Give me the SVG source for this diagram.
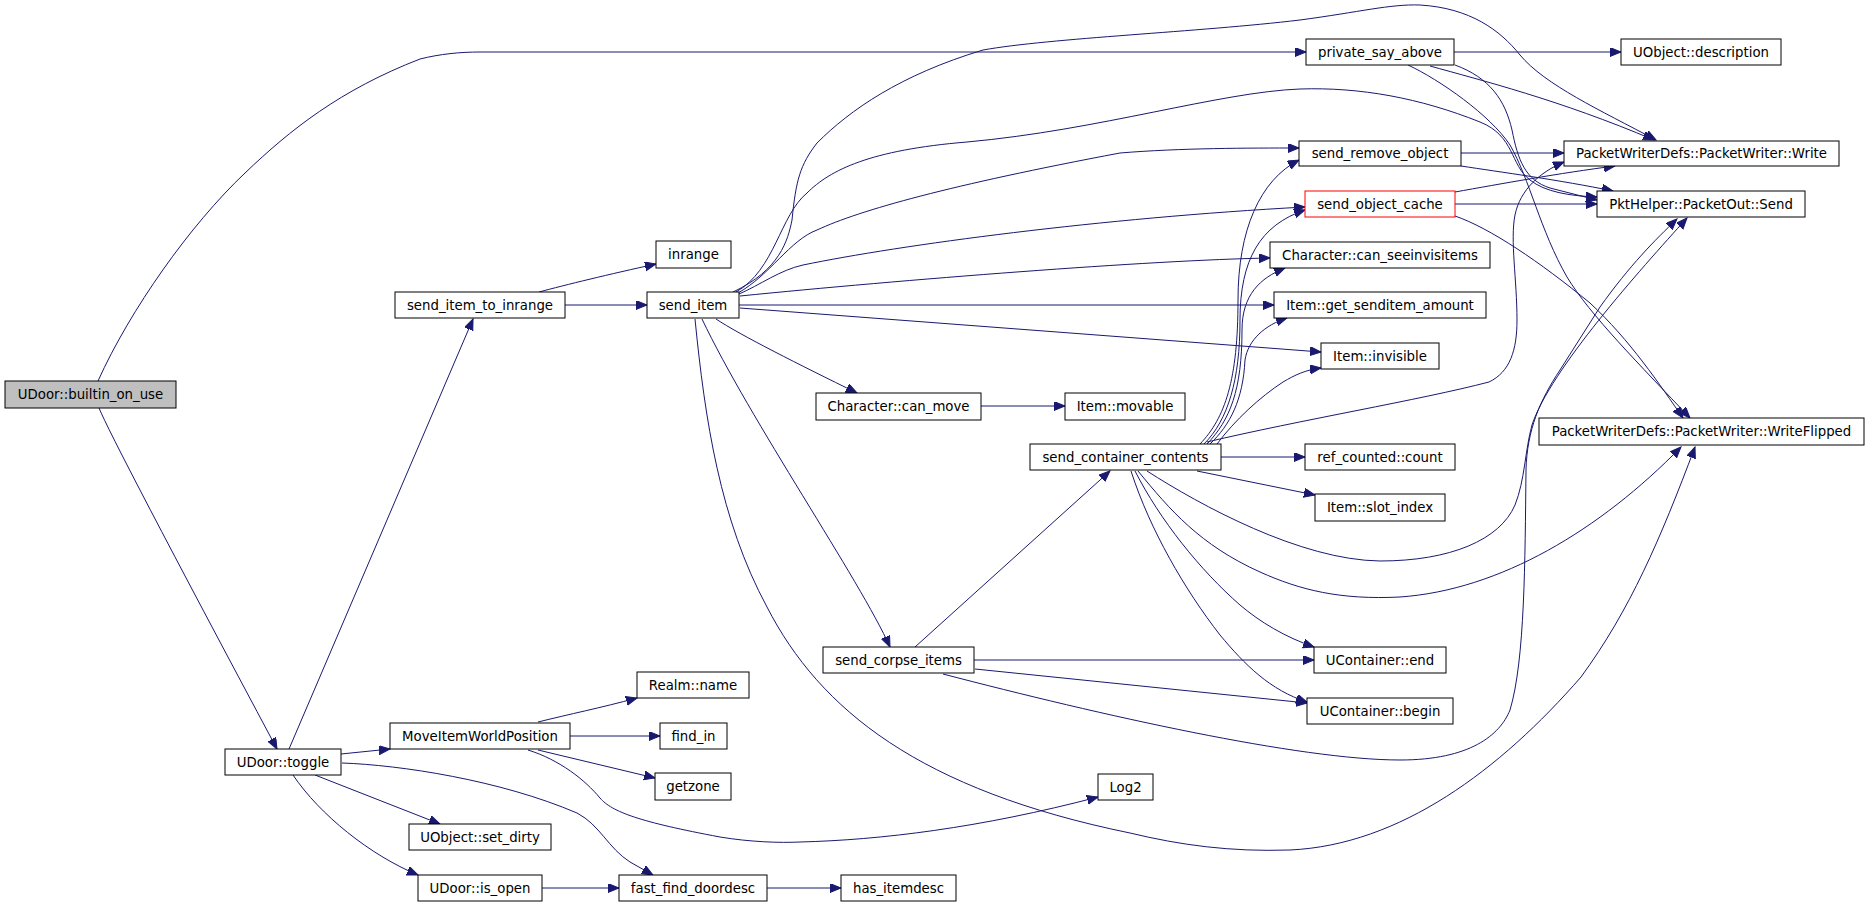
<svg xmlns="http://www.w3.org/2000/svg" width="1869" height="906" viewBox="0 0 1869 906">
<style>
.n rect{fill:#ffffff;stroke:#000000;stroke-width:1}
.n text{font-family:"DejaVu Sans","Liberation Sans",sans-serif;font-size:13.3px;fill:#000000;text-anchor:middle}
#edges path{fill:none;stroke:#191970;stroke-width:1;marker-end:url(#a)}
</style>
<defs>
<marker id="a" markerWidth="12" markerHeight="10" refX="11" refY="4.5" orient="auto" markerUnits="userSpaceOnUse"><path d="M0,0L11,4.5L0,9z" fill="#191970" stroke="#191970" stroke-width="1"/></marker>
</defs>
<rect width="1869" height="906" fill="#ffffff"/>
<g id="edges">
<path d="M98,381 C130,310 190,225 245,173 C290,130 340,90 420,59 C440,54 460,52 480,52 L1306,52"/>
<path d="M99,408 Q112,440 277,749"/>
<path d="M539,292 C565,285 610,274 656,264"/>
<path d="M565,305 L647,305"/>
<path d="M289,749 L473,319"/>
<path d="M341,754 L390,749"/>
<path d="M342,763 C400,765 500,780 577,813 C600,825 608,848 630,862 L653,875"/>
<path d="M315,775 L440,824"/>
<path d="M293,775 C320,815 370,855 418,875"/>
<path d="M538,722 C570,714 600,708 637,698"/>
<path d="M570,736 L660,736"/>
<path d="M538,750 L655,778"/>
<path d="M528,750 C560,760 585,780 600,798 C612,812 640,822 720,837 C750,842 780,843 800,842 C880,840 980,828 1098,797"/>
<path d="M716,319 C740,335 800,365 857,393"/>
<path d="M702,319 C750,420 860,580 890,647"/>
<path d="M695,319 C705,420 720,520 767,607 C820,710 920,790 1130,833 C1180,845 1230,852 1290,850 C1400,845 1500,770 1581,677 C1630,610 1660,540 1695,447"/>
<path d="M739,305 L1274,305"/>
<path d="M740,308 L1321,352"/>
<path d="M740,296 C900,280 1150,260 1270,258"/>
<path d="M739,294 C760,285 780,270 803,265 C900,245 1100,218 1305,207"/>
<path d="M738,293 C770,275 790,240 817,230 C860,210 950,185 1120,153 C1180,148 1250,148 1299,148"/>
<path d="M736,292 C775,270 780,215 807,193 C830,170 870,150 967,142 C1100,130 1220,92 1300,89 C1360,87 1420,98 1480,122 C1515,136 1510,165 1530,180 C1545,192 1570,196 1597,197"/>
<path d="M733,292 C780,270 788,240 792,220 C796,180 800,165 817,143 C850,110 900,75 983,50 C1050,38 1200,32 1300,20 C1360,12 1390,4 1420,5 C1470,8 1500,30 1520,55 C1545,85 1600,110 1656,140"/>
<path d="M981,406 L1065,406"/>
<path d="M915,647 L1110,471"/>
<path d="M974,660 L1314,660"/>
<path d="M975,669 L1307,703"/>
<path d="M943,674 C1100,715 1300,760 1400,760 C1470,760 1500,735 1510,710 C1525,660 1525,560 1526,470 C1527,430 1540,400 1560,370 L1600,307 C1630,265 1655,240 1677,219"/>
<path d="M1147,471 C1200,505 1300,560 1380,561 C1450,561 1500,540 1515,505 C1525,480 1525,450 1532,425 C1550,370 1640,270 1687,218"/>
<path d="M1138,471 C1170,510 1200,545 1260,572 C1300,590 1340,600 1400,597 C1500,590 1600,530 1681,447"/>
<path d="M1135,471 C1160,520 1200,570 1240,605 C1260,622 1285,637 1314,647"/>
<path d="M1131,471 C1150,530 1185,590 1220,635 C1245,665 1270,690 1307,702"/>
<path d="M1197,471 L1315,495"/>
<path d="M1221,457 L1305,457"/>
<path d="M1207,442 C1300,420 1420,400 1489,382 C1510,372 1517,350 1517,320 C1517,280 1510,240 1515,215 C1520,190 1540,172 1564,162"/>
<path d="M1217,444 C1235,420 1260,397 1283,382 C1295,375 1305,370 1321,368"/>
<path d="M1210,444 C1230,425 1243,400 1245,360 C1248,340 1265,325 1287,318"/>
<path d="M1207,444 C1230,420 1242,390 1242,330 C1242,295 1260,278 1285,268"/>
<path d="M1204,444 C1228,420 1240,380 1240,320 C1240,260 1260,225 1305,210"/>
<path d="M1200,444 C1225,418 1238,380 1238,300 C1238,230 1260,180 1299,160"/>
<path d="M1454,52 L1621,52"/>
<path d="M1430,66 C1480,80 1560,100 1654,140"/>
<path d="M1455,65 C1490,78 1505,100 1512,130 C1518,160 1525,180 1550,188 L1597,200"/>
<path d="M1408,65 C1440,80 1490,115 1510,145 C1530,180 1540,230 1567,277 C1590,315 1640,365 1690,418"/>
<path d="M1461,153 L1564,153"/>
<path d="M1461,166 C1500,172 1560,180 1613,191"/>
<path d="M1455,204 L1597,204"/>
<path d="M1455,192 C1500,184 1560,173 1615,166"/>
<path d="M1455,216 C1490,228 1540,262 1590,303 C1630,340 1660,385 1683,418"/>
<path d="M542,888 L619,888"/>
<path d="M767,888 L841,888"/>
</g>
<g id="n_builtin" class="n"><rect x="5" y="381" width="171" height="27" style="fill:#bfbfbf"/><text x="90.5" y="399.2">UDoor::builtin_on_use</text></g>
<g id="n_sir" class="n"><rect x="395" y="292" width="170" height="26"/><text x="480" y="309.7">send_item_to_inrange</text></g>
<g id="n_inrange" class="n"><rect x="656" y="241" width="75" height="27"/><text x="693.5" y="259.2">inrange</text></g>
<g id="n_send_item" class="n"><rect x="647" y="292" width="92" height="26"/><text x="693" y="309.7">send_item</text></g>
<g id="n_can_move" class="n"><rect x="816" y="393" width="165" height="27"/><text x="898.5" y="411.2">Character::can_move</text></g>
<g id="n_movable" class="n"><rect x="1065" y="393" width="120" height="27"/><text x="1125" y="411.2">Item::movable</text></g>
<g id="n_scc" class="n"><rect x="1030" y="444" width="191" height="26"/><text x="1125.5" y="461.7">send_container_contents</text></g>
<g id="n_psa" class="n"><rect x="1306" y="39" width="148" height="26"/><text x="1380" y="56.7">private_say_above</text></g>
<g id="n_desc" class="n"><rect x="1621" y="39" width="160" height="26"/><text x="1701" y="56.7">UObject::description</text></g>
<g id="n_sro" class="n"><rect x="1299" y="141" width="162" height="25"/><text x="1380" y="158.2">send_remove_object</text></g>
<g id="n_write" class="n"><rect x="1564" y="141" width="275" height="25"/><text x="1701.5" y="158.2">PacketWriterDefs::PacketWriter::Write</text></g>
<g id="n_soc" class="n"><rect x="1305" y="191" width="150" height="26" style="stroke:#ff0000"/><text x="1380" y="208.7">send_object_cache</text></g>
<g id="n_send" class="n"><rect x="1597" y="191" width="208" height="26"/><text x="1701" y="208.7">PktHelper::PacketOut::Send</text></g>
<g id="n_cansee" class="n"><rect x="1270" y="242" width="220" height="26"/><text x="1380" y="259.7">Character::can_seeinvisitems</text></g>
<g id="n_gsa" class="n"><rect x="1274" y="292" width="212" height="26"/><text x="1380" y="309.7">Item::get_senditem_amount</text></g>
<g id="n_invisible" class="n"><rect x="1321" y="343" width="118" height="26"/><text x="1380" y="360.7">Item::invisible</text></g>
<g id="n_wf" class="n"><rect x="1539" y="418" width="325" height="27"/><text x="1701.5" y="436.2">PacketWriterDefs::PacketWriter::WriteFlipped</text></g>
<g id="n_count" class="n"><rect x="1305" y="444" width="150" height="26"/><text x="1380" y="461.7">ref_counted::count</text></g>
<g id="n_slot" class="n"><rect x="1315" y="494" width="130" height="27"/><text x="1380" y="512.2">Item::slot_index</text></g>
<g id="n_end" class="n"><rect x="1314" y="647" width="132" height="26"/><text x="1380" y="664.7">UContainer::end</text></g>
<g id="n_begin" class="n"><rect x="1307" y="698" width="146" height="26"/><text x="1380" y="715.7">UContainer::begin</text></g>
<g id="n_corpse" class="n"><rect x="823" y="647" width="151" height="26"/><text x="898.5" y="664.7">send_corpse_items</text></g>
<g id="n_log2" class="n"><rect x="1098" y="774" width="55" height="26"/><text x="1125.5" y="791.7">Log2</text></g>
<g id="n_toggle" class="n"><rect x="225" y="749" width="116" height="26"/><text x="283" y="766.7">UDoor::toggle</text></g>
<g id="n_move" class="n"><rect x="390" y="723" width="180" height="26"/><text x="480" y="740.7">MoveItemWorldPosition</text></g>
<g id="n_realm" class="n"><rect x="637" y="672" width="112" height="26"/><text x="693" y="689.7">Realm::name</text></g>
<g id="n_findin" class="n"><rect x="660" y="723" width="67" height="26"/><text x="693.5" y="740.7">find_in</text></g>
<g id="n_getzone" class="n"><rect x="655" y="773" width="76" height="27"/><text x="693" y="791.2">getzone</text></g>
<g id="n_setdirty" class="n"><rect x="409" y="824" width="142" height="26"/><text x="480" y="841.7">UObject::set_dirty</text></g>
<g id="n_isopen" class="n"><rect x="418" y="875" width="124" height="26"/><text x="480" y="892.7">UDoor::is_open</text></g>
<g id="n_ffd" class="n"><rect x="619" y="875" width="148" height="26"/><text x="693" y="892.7">fast_find_doordesc</text></g>
<g id="n_hasitem" class="n"><rect x="841" y="875" width="115" height="26"/><text x="898.5" y="892.7">has_itemdesc</text></g>
</svg>
